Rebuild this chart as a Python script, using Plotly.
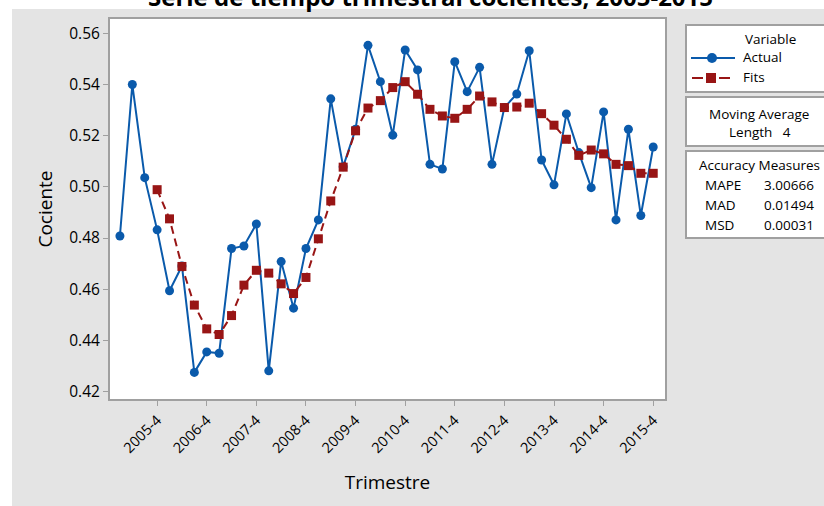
import plotly.graph_objs as go

quarters = [f"{y}-{q}" for y in range(2005, 2016) for q in range(1, 5)]

actual = [0.4808, 0.5400, 0.5036, 0.4832, 0.4594, 0.4691, 0.4275, 0.4355,
          0.4350, 0.4759, 0.4769, 0.4855, 0.4281, 0.4708, 0.4526, 0.4759,
          0.4871, 0.5344, 0.5079, 0.5225, 0.5553, 0.5411, 0.5202, 0.5535,
          0.5457, 0.5088, 0.5070, 0.5489, 0.5372, 0.5467, 0.5088, 0.5310,
          0.5363, 0.5532, 0.5105, 0.5008, 0.5285, 0.5134, 0.4997, 0.5293,
          0.4871, 0.5225, 0.4888, 0.5156]

fits = [None, None, None,
        0.4989, 0.4875, 0.4689, 0.4538, 0.4445, 0.4423, 0.4497, 0.4616,
        0.4674, 0.4663, 0.4621, 0.4583, 0.4646, 0.4797, 0.4945, 0.5077,
        0.5219, 0.5308, 0.5337, 0.5388, 0.5411, 0.5362, 0.5303, 0.5277,
        0.5268, 0.5303, 0.5355, 0.5332, 0.5310, 0.5312, 0.5327, 0.5286,
        0.5241, 0.5186, 0.5123, 0.5144, 0.5129, 0.5088, 0.5083, 0.5053,
        0.5053]

tick_labels = [f"{y}-4" for y in range(2005, 2016)]
measures = [("MAPE", "3.00666"), ("MAD", "0.01494"), ("MSD", "0.00031")]

BLUE = "#0a5aab"
RED = "#981515"
GRID = "#a0a0a0"
FONT = "Open Sans"
INK = "#000"
DASH = "8px,5px"

# plot area in pixels: x 110..665, y 19..399
L, R, T, B = 110, 665, 19, 399


def px(x):
    return (x - L) / (R - L)


def py(y):
    return (B - y) / (B - T)


idx = list(range(len(quarters)))

fig = go.Figure()
fig.add_trace(go.Scatter(x=idx, y=actual, mode="lines+markers", name="Actual",
                         line=dict(color=BLUE, width=2),
                         marker=dict(color=BLUE, size=9, symbol="circle"),
                         hovertext=quarters))
fig.add_trace(go.Scatter(x=idx, y=fits, mode="lines+markers", name="Fits",
                         line=dict(color=RED, width=2, dash=DASH),
                         marker=dict(color=RED, size=9, symbol="square"),
                         hovertext=quarters))

shapes = [
    # white strips round the gray page
    dict(type="rect", xref="paper", yref="paper", x0=px(0), x1=px(824), y0=py(0), y1=py(9),
         fillcolor="white", line=dict(width=0), layer="below"),
    dict(type="rect", xref="paper", yref="paper", x0=px(0), x1=px(12), y0=py(0), y1=py(506),
         fillcolor="white", line=dict(width=0), layer="below"),
]
# side boxes
for top, bottom in [(25, 92), (97, 146), (151, 238)]:
    shapes.append(dict(type="rect", xref="paper", yref="paper", x0=px(686), x1=px(830),
                       y0=py(bottom), y1=py(top), fillcolor="white",
                       line=dict(color=GRID, width=2), layer="below"))
# legend symbols
shapes += [
    dict(type="line", xref="paper", yref="paper", x0=px(691), x1=px(735), y0=py(58), y1=py(58),
         line=dict(color=BLUE, width=2)),
    dict(type="circle", xref="paper", yref="paper", x0=px(707), x1=px(717), y0=py(63), y1=py(53),
         fillcolor=BLUE, line=dict(color=BLUE, width=0)),
    dict(type="line", xref="paper", yref="paper", x0=px(692), x1=px(703), y0=py(78), y1=py(78),
         line=dict(color=RED, width=2)),
    dict(type="line", xref="paper", yref="paper", x0=px(719), x1=px(730), y0=py(78), y1=py(78),
         line=dict(color=RED, width=2)),
    dict(type="rect", xref="paper", yref="paper", x0=px(706), x1=px(716), y0=py(83), y1=py(73),
         fillcolor=RED, line=dict(color=RED, width=0)),
]


def txt(text, x, y, xanchor="center", size=13.5, **kw):
    return dict(text=text, xref="paper", yref="paper", x=px(x), y=py(y), xanchor=xanchor,
                yanchor="middle", showarrow=False, font=dict(family=FONT, size=size, color=INK), **kw)


annotations = [
    dict(text="<b>Serie de tiempo trimestral cocientes, 2005-2015</b>", xref="paper", yref="paper",
         x=px(430), y=py(15), xanchor="center", yanchor="bottom", showarrow=False,
         font=dict(family=FONT, size=24, color=INK)),
    txt("Variable", 770, 39),
    txt("Actual", 741, 57, xanchor="left"),
    txt("Fits", 741, 77, xanchor="left"),
    txt("Moving Average", 759, 114),
    txt("Length   4", 760, 132),
    txt("Accuracy Measures", 759, 165),
]
for k, (name, val) in enumerate(measures):
    annotations.append(txt(name, 703, 185 + 20 * k, xanchor="left"))
    annotations.append(txt(val, 816, 185 + 20 * k, xanchor="right"))

fig.update_layout(
    width=824, height=506,
    margin=dict(l=L, r=824 - R, t=T, b=506 - B),
    paper_bgcolor="#e4e4e4",
    plot_bgcolor="white",
    showlegend=False,
    font=dict(family=FONT, color=INK),
    shapes=shapes,
    annotations=annotations,
)
fig.update_xaxes(range=[-0.8, 43.95], tickvals=[3 + 4 * k for k in range(len(tick_labels))],
                 ticktext=tick_labels, tickangle=-45, ticks="outside", ticklen=5,
                 tickcolor=GRID, tickfont=dict(size=14.5, family=FONT, color=INK),
                 showline=True, linecolor=GRID, linewidth=2, mirror=True, showgrid=False,
                 zeroline=False,
                 title=dict(text="Trimestre", font=dict(size=19, family=FONT, color=INK), standoff=20))
fig.update_yaxes(range=[0.4171, 0.5656], tickvals=[0.42, 0.44, 0.46, 0.48, 0.50, 0.52, 0.54, 0.56],
                 tickformat=".2f", ticks="outside", ticklen=5, tickcolor=GRID,
                 tickfont=dict(size=15.5, family=FONT, color=INK),
                 showline=True, linecolor=GRID, linewidth=2, mirror=True, showgrid=False,
                 zeroline=False,
                 title=dict(text="Cociente", font=dict(size=19, family=FONT, color=INK), standoff=12))

fig.write_html("out.html", config={"displayModeBar": False},
               post_script="document.body.style.margin='0';")
